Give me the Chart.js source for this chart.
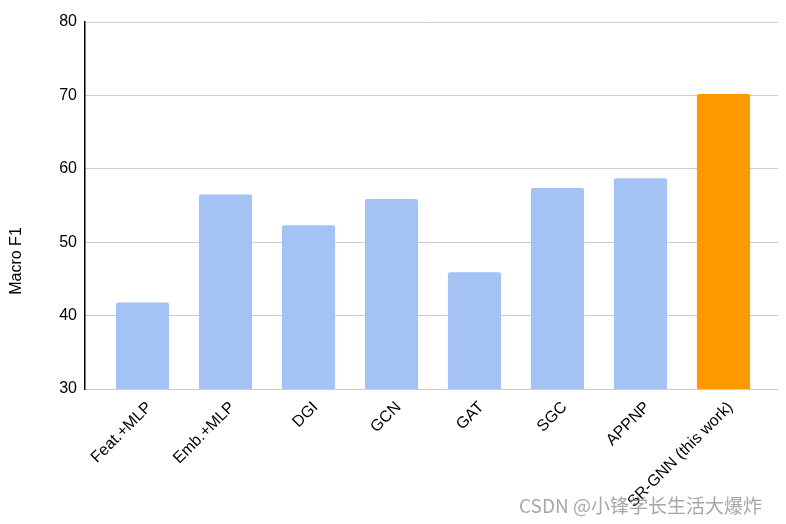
<!DOCTYPE html>
<html>
<head>
<meta charset="utf-8">
<script src="https://cdn.jsdelivr.net/npm/chart.js@4.4.1/dist/chart.umd.min.js"></script>
<style>
  html, body { margin: 0; padding: 0; background: #fff; }
  #wrap { width: 786px; height: 524px; }
</style>
</head>
<body>
<div id="wrap"><canvas id="chart"></canvas></div>
<script>
// values
const methods = ["Feat.+MLP", "Emb.+MLP", "DGI", "GCN", "GAT", "SGC", "APPNP", "SR-GNN (this work)"];
const macroF1 = [41.8, 56.5, 52.3, 55.9, 45.9, 57.4, 58.7, 70.2];
const yTicks = [30, 40, 50, 60, 70, 80];
const yTitle = "Macro F1";

const baseColor = "#a4c2f4";
const highlightColor = "#ff9900";
const font = "'Liberation Sans', Arial, sans-serif";

// axis title sits at the middle of the whole picture, plus the site watermark
const extras = {
  id: "extras",
  afterDraw(chart) {
    const c = chart.ctx;
    c.save();
    c.font = "16px " + font;
    c.fillStyle = "#000";
    c.textAlign = "center";
    c.textBaseline = "middle";
    c.translate(17, 261);
    c.rotate(-Math.PI / 2);
    c.fillText(yTitle, 0, 0);
    c.restore();

    c.save();
    c.font = "19px 'Noto Sans CJK SC', sans-serif";
    c.fillStyle = "rgba(130,130,130,0.7)";
    c.textAlign = "left";
    c.textBaseline = "middle";
    c.fillText("CSDN @小锋学长生活大爆炸", 519, 506);
    c.restore();
  },
};

new Chart(document.getElementById("chart"), {
  type: "bar",
  data: {
    datasets: [
      {
        label: yTitle,
        data: macroF1.map((v, i) => ({ x: i, y: v })),
        backgroundColor: methods.map((m, i) =>
          i === methods.length - 1 ? highlightColor : baseColor
        ),
        borderWidth: 0,
        borderRadius: { topLeft: 2, topRight: 2 },
        borderSkipped: "bottom",
        barPercentage: 0.64,
        categoryPercentage: 1,
      },
    ],
  },
  options: {
    responsive: true,
    maintainAspectRatio: false,
    animation: false,
    layout: { padding: { top: 22, right: 8, left: 0, bottom: 0 } },
    plugins: {
      legend: { display: false },
      tooltip: { enabled: false },
    },
    scales: {
      x: {
        type: "linear",
        offset: false,
        bounds: "data",
        min: -0.693,
        max: 7.657,
        afterBuildTicks(scale) {
          scale.ticks = methods.map((m, i) => ({ value: i }));
        },
        afterFit(scale) {
          scale.height = 135;
        },
        grid: { display: false, drawTicks: false, offset: false },
        border: { display: false },
        ticks: {
          autoSkip: false,
          maxRotation: 45,
          minRotation: 45,
          padding: 9,
          labelOffset: 7,
          color: "#000",
          font: { family: font, size: 16 },
          callback: (v) => methods[v],
        },
      },
      y: {
        min: 30,
        max: 80,
        afterBuildTicks(scale) {
          scale.ticks = yTicks.map((v) => ({ value: v }));
        },
        afterFit(scale) {
          scale.width = 85;
        },
        grid: {
          color: "#cccccc",
          lineWidth: 1,
          drawTicks: false,
        },
        border: { display: true, color: "#000", width: 1.5 },
        ticks: {
          padding: 8,
          color: "#000",
          font: { family: font, size: 16 },
        },
      },
    },
  },
  plugins: [extras],
});
</script>
</body>
</html>
